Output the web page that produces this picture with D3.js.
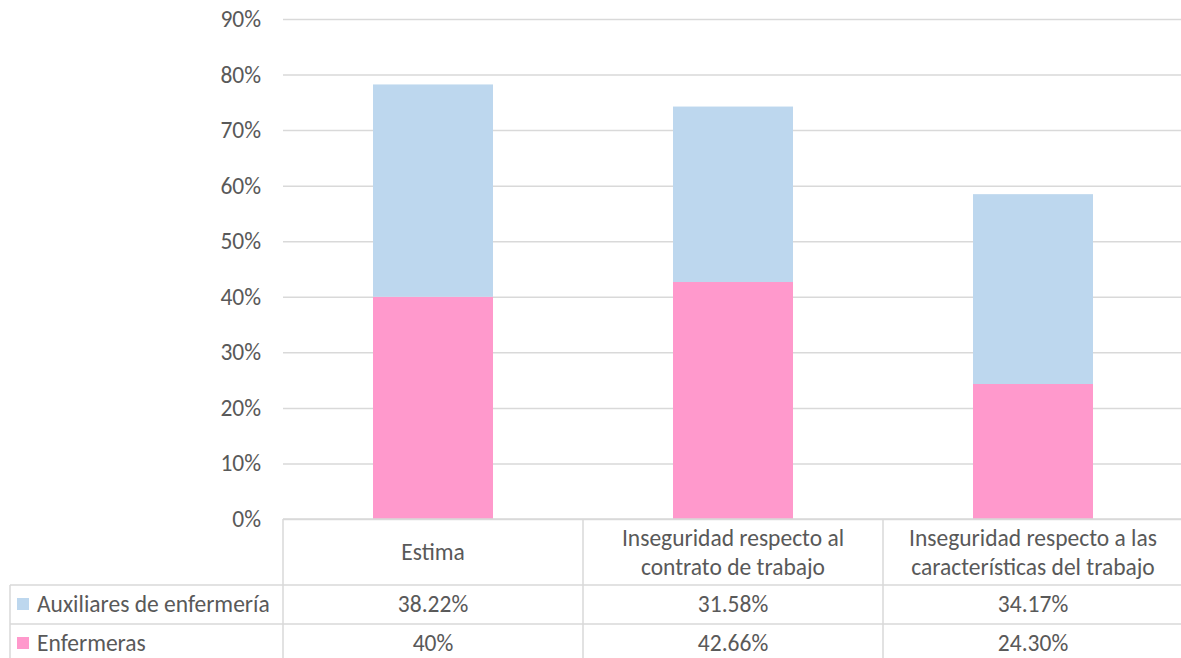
<!DOCTYPE html>
<html>
<head>
<meta charset="utf-8">
<script src="https://cdn.jsdelivr.net/npm/d3@7"></script>
<style>
  html, body { margin: 0; padding: 0; background: #fff; overflow: hidden; }
  svg { display: block; }
  text { font-family: Carlito, Lato, "Noto Sans", sans-serif; fill: #595959; }
</style>
</head>
<body>
<svg id="chart" width="1181" height="658"></svg>
<script>
// Categories shown along the x axis (multi-line labels in the data table header)
const categories = [
  ["Estima"],
  ["Inseguridad respecto al", "contrato de trabajo"],
  ["Inseguridad respecto a las", "características del trabajo"]
];
const seriesNames = ["Auxiliares de enfermería", "Enfermeras"];
// Values in percent; stacked with Enfermeras at the bottom
const auxiliares = [38.22, 31.58, 34.17];
const enfermeras = [40, 42.66, 24.30];
const auxiliaresLabels = ["38.22%", "31.58%", "34.17%"];
const enfermerasLabels = ["40%", "42.66%", "24.30%"];
const yTicks = [0, 10, 20, 30, 40, 50, 60, 70, 80, 90];
const colors = { aux: "#BDD7EE", enf: "#FF99CC" };

const svg = d3.select("#chart");
const plotLeft = 283, plotRight = 1183, plotTop = 19, plotBottom = 519;
const tableLeft = 10;
const rowLines = [585, 624];
const rowBottom = 663;
const gridColor = "#D9D9D9";
const fs = 23.5;

const x = d3.scaleBand()
  .domain(d3.range(categories.length))
  .range([plotLeft, plotRight])
  .paddingInner(0)
  .paddingOuter(0);
const y = d3.scaleLinear().domain([0, 90]).range([plotBottom, plotTop]);

// Gridlines and y labels
const yAxis = d3.axisLeft(y)
  .tickValues(yTicks)
  .tickFormat(d => d + "%")
  .tickSize(-(plotRight - plotLeft))
  .tickPadding(22);
const gy = svg.append("g").attr("transform", `translate(${plotLeft},0)`).call(yAxis);
gy.select(".domain").remove();
gy.selectAll(".tick line").attr("stroke", gridColor).attr("stroke-width", 1.5);
gy.selectAll(".tick text")
  .attr("font-size", fs)
  .attr("fill", "#595959")
  .style("font-family", "Carlito, Lato, 'Noto Sans', sans-serif");

// Stacked bars
const barW = 120;
const stackData = categories.map((c, i) => ({ i, enf: enfermeras[i], aux: auxiliares[i] }));
const stack = d3.stack().keys(["enf", "aux"])(stackData);
const gBars = svg.append("g");
stack.forEach(layer => {
  gBars.selectAll(null)
    .data(layer)
    .enter().append("rect")
    .attr("x", d => x(d.data.i) + x.bandwidth() / 2 - barW / 2)
    .attr("width", barW)
    .attr("y", d => y(d[1]))
    .attr("height", d => y(d[0]) - y(d[1]))
    .attr("fill", colors[layer.key]);
});

// Data table lines
const gT = svg.append("g").attr("stroke", gridColor).attr("stroke-width", 1.5).attr("fill", "none");
gT.append("line").attr("x1", plotLeft).attr("x2", plotRight).attr("y1", plotBottom).attr("y2", plotBottom);
rowLines.forEach(ry => {
  gT.append("line").attr("x1", tableLeft).attr("x2", plotRight).attr("y1", ry).attr("y2", ry);
});
d3.range(categories.length + 1).forEach(i => {
  const vx = i < categories.length ? x(i) : plotRight;
  gT.append("line").attr("x1", vx).attr("x2", vx).attr("y1", plotBottom).attr("y2", rowBottom);
});
gT.append("line").attr("x1", tableLeft).attr("x2", tableLeft).attr("y1", rowLines[0]).attr("y2", rowBottom);

// Header (category) labels
categories.forEach((lines, i) => {
  const cx = x(i) + x.bandwidth() / 2;
  const cy = (plotBottom + rowLines[0]) / 2;
  const lh = 29;
  const t = svg.append("text")
    .attr("text-anchor", "middle")
    .attr("font-size", fs);
  lines.forEach((ln, k) => {
    t.append("tspan")
      .attr("x", cx)
      .attr("y", cy + (k - (lines.length - 1) / 2) * lh)
      .attr("dy", "0.35em")
      .text(ln);
  });
});

// Data rows with legend keys
const rows = [
  { name: seriesNames[0], color: colors.aux, labels: auxiliaresLabels, y0: rowLines[0] },
  { name: seriesNames[1], color: colors.enf, labels: enfermerasLabels, y0: rowLines[1] }
];
rows.forEach(r => {
  const cy = r.y0 + 19;
  svg.append("rect")
    .attr("x", 17).attr("y", cy - 6)
    .attr("width", 12).attr("height", 12)
    .attr("fill", r.color);
  svg.append("text")
    .attr("x", 37).attr("y", cy).attr("dy", "0.35em")
    .attr("font-size", fs)
    .text(r.name);
  r.labels.forEach((lab, i) => {
    svg.append("text")
      .attr("x", x(i) + x.bandwidth() / 2)
      .attr("y", cy).attr("dy", "0.35em")
      .attr("text-anchor", "middle")
      .attr("font-size", fs)
      .text(lab);
  });
});
</script>
</body>
</html>
